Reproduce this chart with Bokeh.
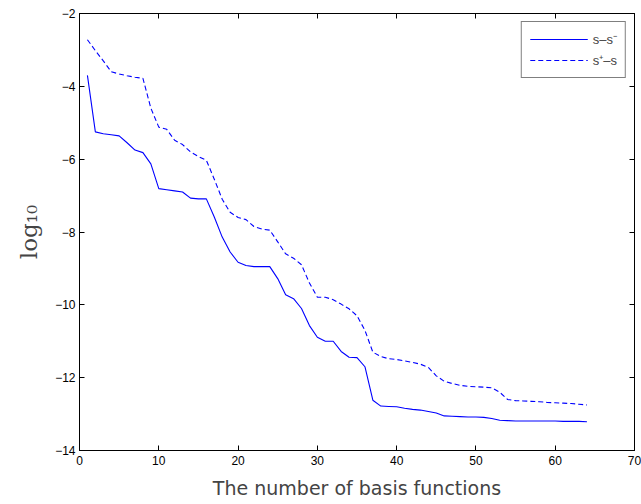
from bokeh.plotting import figure
from bokeh.models import (Range1d, LinearAxis, Legend, LegendItem, FixedTicker,
                          CustomJSTickFormatter, ColumnDataSource)
from bokeh.embed import file_html
from bokeh.resources import INLINE

# ---- data ----
n_basis = list(range(1, 65))
s_minus = [-3.70, -5.25, -5.30, -5.33, -5.36, -5.55, -5.75, -5.82, -6.13, -6.81,
           -6.84, -6.87, -6.90, -7.07, -7.09, -7.09, -7.59, -8.14, -8.55, -8.83,
           -8.92, -8.95, -8.95, -8.95, -9.28, -9.72, -9.83, -10.10, -10.57, -10.89,
           -11.00, -11.00, -11.28, -11.44, -11.45, -11.70, -12.62, -12.78, -12.79, -12.80,
           -12.84, -12.87, -12.89, -12.93, -12.97, -13.05, -13.06, -13.07, -13.08, -13.08,
           -13.09, -13.12, -13.17, -13.18, -13.19, -13.19, -13.19, -13.19, -13.19, -13.19,
           -13.20, -13.20, -13.20, -13.21]
s_plus = [-2.72, -3.02, -3.30, -3.60, -3.66, -3.71, -3.75, -3.78, -4.60, -5.12,
          -5.18, -5.48, -5.60, -5.80, -5.93, -6.03, -6.55, -7.10, -7.46, -7.60,
          -7.66, -7.85, -7.92, -7.95, -8.27, -8.60, -8.72, -8.90, -9.40, -9.79,
          -9.79, -9.86, -9.98, -10.11, -10.30, -10.70, -11.30, -11.42, -11.48, -11.50,
          -11.54, -11.58, -11.63, -11.72, -11.95, -12.10, -12.16, -12.21, -12.24, -12.25,
          -12.26, -12.28, -12.40, -12.60, -12.63, -12.64, -12.65, -12.66, -12.68, -12.69,
          -12.70, -12.71, -12.73, -12.75]
x_ticks = [0, 10, 20, 30, 40, 50, 60, 70]
y_ticks = [-14, -12, -10, -8, -6, -4, -2]
label_minus = "s\u2013s\u207b"
label_plus = "s\u207a\u2013s"
x_label = "The number of basis functions"
y_label = "log\u2081\u2080"

src = ColumnDataSource(dict(x=n_basis, a=s_minus, b=s_plus))

p = figure(width=641, height=504, output_backend="svg", toolbar_location=None,
           x_range=Range1d(0, 70), y_range=Range1d(-14, -2),
           min_border_left=79, min_border_right=7, min_border_top=13,
           min_border_bottom=54)
p.xgrid.visible = False
p.ygrid.visible = False
p.outline_line_color = "black"
p.outline_line_width = 1
p.background_fill_color = "white"
p.border_fill_color = "white"

fmt = CustomJSTickFormatter(code="return tick < 0 ? '\u2212' + Math.abs(tick) : String(tick);")
blank = CustomJSTickFormatter(code="return '';")

def style_axis(ax, ticks, show_labels=True):
    ax.ticker = FixedTicker(ticks=ticks)
    ax.minor_tick_line_color = None
    ax.major_tick_in = 5
    ax.major_tick_out = 0
    ax.axis_line_color = "black"
    ax.major_tick_line_color = "black"
    ax.major_label_text_font = "Liberation Sans"
    ax.major_label_text_font_size = "12px"
    ax.major_label_text_color = "black"
    ax.formatter = fmt if show_labels else blank

style_axis(p.xaxis[0], x_ticks)
style_axis(p.yaxis[0], y_ticks)
p.xaxis[0].major_label_standoff = 5
p.yaxis[0].major_label_standoff = 4
p.xaxis[0].axis_label = x_label
p.xaxis[0].axis_label_text_font = "DejaVu Sans"
p.xaxis[0].axis_label_text_font_size = "19px"
p.xaxis[0].axis_label_text_font_style = "normal"
p.xaxis[0].axis_label_standoff = 9
p.yaxis[0].axis_label = y_label
p.yaxis[0].axis_label_text_font = "DejaVu Serif"
p.yaxis[0].axis_label_text_font_size = "23px"
p.yaxis[0].axis_label_text_font_style = "normal"
p.yaxis[0].axis_label_standoff = 10

top_ax = LinearAxis()
style_axis(top_ax, x_ticks, show_labels=False)
top_ax.major_label_standoff = 0
p.add_layout(top_ax, "above")
right_ax = LinearAxis()
style_axis(right_ax, y_ticks, show_labels=False)
right_ax.major_label_standoff = 0
p.add_layout(right_ax, "right")

r1 = p.line("x", "a", source=src, line_color="#0000ff", line_width=1.1)
r2 = p.line("x", "b", source=src, line_color="#0000ff", line_width=1.1,
            line_dash="5 3")

legend = Legend(items=[LegendItem(label=label_minus, renderers=[r1]),
                       LegendItem(label=label_plus, renderers=[r2])],
                location="top_right")
legend.border_line_color = "black"
legend.border_line_width = 1
legend.background_fill_color = "white"
legend.background_fill_alpha = 1.0
legend.label_text_font = "Liberation Sans"
legend.label_text_font_size = "13px"
legend.glyph_width = 58
legend.glyph_height = 18
legend.label_height = 18
legend.label_standoff = 5
legend.padding = 8
legend.spacing = 3
legend.margin = 8
p.add_layout(legend)

open("out.html", "w").write(file_html(p, INLINE))
